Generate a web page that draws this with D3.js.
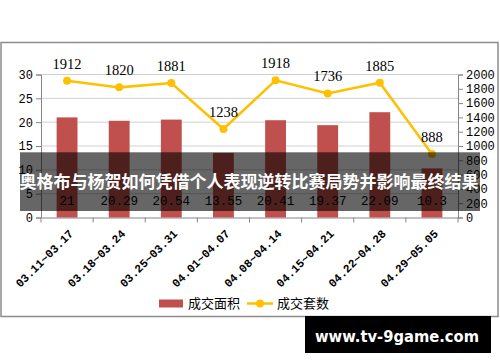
<!DOCTYPE html>
<html><head><meta charset="utf-8">
<script src="https://cdn.jsdelivr.net/npm/d3@7/dist/d3.min.js"></script>
<style>body{margin:0;background:#fff;}svg{display:block;}</style>
</head><body>
<svg id="c" width="500" height="362"></svg>
<script>
const categories = ["03.11~03.17","03.18~03.24","03.25~03.31","04.01~04.07","04.08~04.14","04.15~04.21","04.22~04.28","04.29~05.05"];
const areaValues = [21, 20.29, 20.54, 13.55, 20.41, 19.37, 22.09, 10.3];
const countValues = [1912, 1820, 1881, 1238, 1918, 1736, 1885, 888];
const leftTicks = [0,5,10,15,20,25,30];
const rightTicks = [0,200,400,600,800,1000,1200,1400,1600,1800,2000];
const seriesNames = ["成交面积","成交套数"];
const title = "奥格布与杨贺如何凭借个人表现逆转比赛局势并影响最终结果";
const watermark = "www.tv-9game.com";

const svg = d3.select("#c");
const L = 41, R = 458, T = 74.5, B = 217.5;
const x = d3.scaleBand().domain(categories).range([L, R]).paddingInner(0).paddingOuter(0);
const yL = d3.scaleLinear().domain([0,30]).range([B, T]);
const yR = d3.scaleLinear().domain([0,2000]).range([B, T]);
const red = "#c0504d", gold = "#ffc000", axisCol = "#868686";

// frame
svg.append("rect").attr("x",1).attr("y",42.5).attr("width",497).attr("height",274)
  .attr("fill","#fff").attr("stroke","#8c8c8c").attr("stroke-width",1.5);

// grid
svg.append("g").selectAll("line").data(leftTicks.filter(d=>d>0)).join("line")
  .attr("x1",L).attr("x2",R).attr("y1",d=>yL(d)).attr("y2",d=>yL(d))
  .attr("stroke","#d0d0d0").attr("stroke-width",1);

// axes
const gl = svg.append("g").attr("transform",`translate(${L},0)`)
  .call(d3.axisLeft(yL).tickValues(leftTicks).tickFormat(d3.format("d")).tickSize(5).tickPadding(3));
const gr = svg.append("g").attr("transform",`translate(${R},0)`)
  .call(d3.axisRight(yR).tickValues(rightTicks).tickFormat(d3.format("d")).tickSize(5).tickPadding(3));
const gb = svg.append("g").attr("transform",`translate(0,${B})`)
  .call(d3.axisBottom(x).tickSize(0).tickFormat(""));
[gl,gr,gb].forEach(g=>{
  g.select(".domain").attr("stroke",axisCol);
  g.selectAll(".tick line").attr("stroke",axisCol);
  g.selectAll("text").attr("font-family","Liberation Mono, monospace").attr("font-size",12).attr("fill","#000");
});
// category boundary ticks
svg.append("g").selectAll("line").data(d3.range(categories.length+1)).join("line")
  .attr("x1",i=>L + i*x.step()).attr("x2",i=>L + i*x.step())
  .attr("y1",B).attr("y2",B+5).attr("stroke",axisCol);

// x labels
svg.append("g").selectAll("text").data(categories).join("text")
  .attr("transform",d=>`translate(${x(d)+x.bandwidth()/2+4},${B+14}) rotate(-45)`)
  .attr("text-anchor","end").attr("dy","0.35em")
  .attr("font-family","Liberation Mono, monospace").attr("font-size",11.5).attr("font-weight","bold")
  .text(d=>d);

// bars
const bw = x.bandwidth()*0.4;
svg.append("g").selectAll("rect").data(areaValues).join("rect")
  .attr("x",(d,i)=>x(categories[i])+x.bandwidth()/2-bw/2).attr("width",bw)
  .attr("y",d=>yL(d)).attr("height",d=>B-yL(d)).attr("fill",red);

// bar labels
svg.append("g").selectAll("text").data(areaValues).join("text")
  .attr("x",(d,i)=>x(categories[i])+x.bandwidth()/2).attr("y",B-13)
  .attr("text-anchor","middle").attr("font-family","Liberation Mono, monospace").attr("font-size",12.5)
  .text(d=>d);

// line
const cx = i=>x(categories[i])+x.bandwidth()/2;
svg.append("path").datum(countValues)
  .attr("d",d3.line().x((d,i)=>cx(i)).y(d=>yR(d)))
  .attr("fill","none").attr("stroke",gold).attr("stroke-width",2.5);
svg.append("g").selectAll("circle").data(countValues).join("circle")
  .attr("cx",(d,i)=>cx(i)).attr("cy",d=>yR(d)).attr("r",4).attr("fill",gold);
svg.append("g").selectAll("text").data(countValues).join("text")
  .attr("x",(d,i)=>cx(i)).attr("y",d=>yR(d)-12)
  .attr("text-anchor","middle").attr("font-family","Liberation Serif, serif").attr("font-size",14.5)
  .text(d=>d);

// legend
const lg = svg.append("g");
lg.append("rect").attr("x",159).attr("y",299.5).attr("width",24).attr("height",8).attr("fill",red);
lg.append("text").attr("x",188).attr("y",303.5).attr("dy","0.35em").attr("font-family","Noto Sans CJK SC").attr("font-size",13).text(seriesNames[0]);
lg.append("line").attr("x1",247).attr("x2",273).attr("y1",303.5).attr("y2",303.5).attr("stroke",gold).attr("stroke-width",2.5);
lg.append("circle").attr("cx",260).attr("cy",303.5).attr("r",4).attr("fill",gold);
lg.append("text").attr("x",277).attr("y",303.5).attr("dy","0.35em").attr("font-family","Noto Sans CJK SC").attr("font-size",13).text(seriesNames[1]);

// overlay band + title
svg.append("rect").attr("x",20).attr("y",152.3).attr("width",460).attr("height",58.7).attr("fill","rgba(0,0,0,0.6)");
svg.append("text").attr("x",249).attr("y",182).attr("dy","0.36em").attr("text-anchor","middle")
  .attr("font-family","Noto Sans CJK SC").attr("font-weight","bold").attr("font-size",17)
  .attr("fill","#fff").text(title);

// watermark
svg.append("rect").attr("x",305).attr("y",316).attr("width",186).attr("height",37).attr("fill","#000");
svg.append("text").attr("x",397).attr("y",336.5).attr("dy","0.36em").attr("text-anchor","middle")
  .attr("font-family","DejaVu Sans").attr("font-weight","bold").attr("font-size",15)
  .attr("textLength",164).attr("lengthAdjust","spacingAndGlyphs")
  .attr("fill","#fff").text(watermark);
</script>
</body></html>
